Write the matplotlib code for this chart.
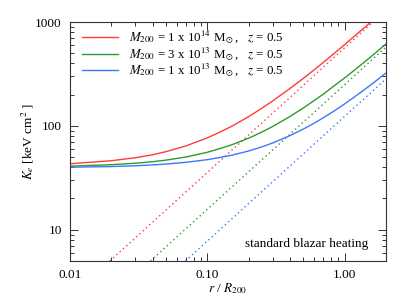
import matplotlib
matplotlib.use('Agg')
import matplotlib.pyplot as plt
from matplotlib.ticker import FixedLocator, NullFormatter

plt.rcParams['font.family'] = ['Liberation Serif', 'DejaVu Serif']
plt.rcParams['mathtext.fontset'] = 'stix'

# radius in units of R200
r = [0.01, 0.02, 0.03, 0.04, 0.05, 0.07, 0.1, 0.12, 0.15, 0.2, 0.25, 0.3,
     0.4, 0.5, 0.6, 0.7, 0.85, 1.0, 1.2, 1.5, 2.0]

# entropy profiles with blazar heating [keV cm^2]
k_1e14 = [43.2, 46.2, 49.4, 52.7, 56.5, 64.2, 76.6, 85.5, 98.8, 122.7, 148,
          174, 229, 286, 346, 408, 505, 605, 745, 958, 1336]
k_3e13 = [41.0, 42.3, 43.7, 45.2, 46.8, 50.2, 55.7, 59.8, 65.6, 76.1, 87.2,
          98.8, 123, 148.5, 175, 202, 246, 289, 350, 445, 612]
k_1e13 = [40.0, 40.6, 41.3, 42.1, 42.9, 44.6, 47.3, 49.3, 52.1, 57.3, 62.8,
          68.5, 80.6, 93, 106, 119.7, 140.5, 162.5, 193, 239.5, 322]

# baseline power laws (dotted), end points
r_base_1e14 = [0.0195, 2.0]
k_base_1e14 = [5.0, 1295]
r_base_3e13 = [0.0385, 2.0]
k_base_3e13 = [5.0, 572]
r_base_1e13 = [0.0693, 2.0]
k_base_1e13 = [5.0, 283]

labels = [r'$M_{200}$ = 1 x 10$^{14}$ M$_\odot$,   $z$ = 0.5',
          r'$M_{200}$ = 3 x 10$^{13}$ M$_\odot$,   $z$ = 0.5',
          r'$M_{200}$ = 1 x 10$^{13}$ M$_\odot$,   $z$ = 0.5']
colors = ['#ff3b3b', '#2e9a2e', '#3a78ff']

fig = plt.figure(figsize=(4.07, 3.06), dpi=100)
ax = fig.add_axes([0.172, 0.147, 0.776, 0.781])

curves = [(k_1e14, r_base_1e14, k_base_1e14),
          (k_3e13, r_base_3e13, k_base_3e13),
          (k_1e13, r_base_1e13, k_base_1e13)]
for (k, rb, kb), c, lab in zip(curves, colors, labels):
    ax.plot(r, k, color=c, lw=1.0, label=lab)
    ax.plot(rb, kb, color=c, lw=1.0, ls=(0, (1, 2.2)))

ax.set_xscale('log')
ax.set_yscale('log')
ax.set_xlim(0.01, 2.0)
ax.set_ylim(5, 1000)

ax.xaxis.set_major_locator(FixedLocator([0.01, 0.1, 1.0]))
ax.set_xticklabels(['0.01', '0.10', '1.00'])
ax.xaxis.set_minor_formatter(NullFormatter())
ax.yaxis.set_major_locator(FixedLocator([10, 100, 1000]))
ax.set_yticklabels(['10', '100', '1000'])
ax.yaxis.set_minor_formatter(NullFormatter())

ax.tick_params(which='both', direction='in', top=True, right=True,
               labelsize=9.5, width=0.7, color='#333333')
ax.tick_params(which='major', length=6, pad=6)
ax.tick_params(which='minor', length=3)
for s in ax.spines.values():
    s.set_linewidth(0.8)
    s.set_color('#333333')

ax.set_xlabel(r'$r$ / $R_{200}$', fontsize=9.5, labelpad=0)
ax.set_ylabel(r'$K_e$ [keV cm$^2$ ]', fontsize=9.5, labelpad=-1)

ax.legend(loc='upper left', frameon=False, fontsize=9.3, handlelength=2.85,
          handletextpad=0.8, labelspacing=-0.05, borderaxespad=0.5,
          bbox_to_anchor=(0.0, 1.02))
ax.text(0.945, 0.07, 'standard blazar heating', transform=ax.transAxes,
        ha='right', va='center', fontsize=9.5)

fig.savefig('out.png', dpi=100)
